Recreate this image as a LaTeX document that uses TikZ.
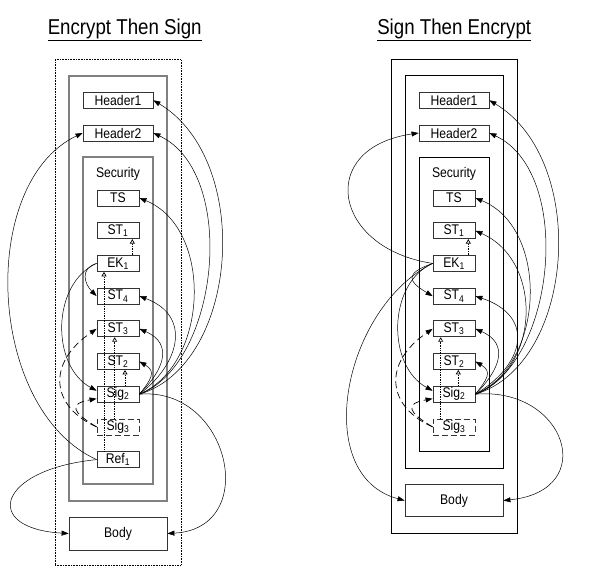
\documentclass[tikz,border=0pt]{standalone}
\usepackage{fontspec}
\setmainfont{Liberation Sans}[FakeStretch=0.87]
\usetikzlibrary{arrows.meta,calc}
\begin{document}
\begin{tikzpicture}[x=1pt,y=-1pt,
  box/.style={draw=black!80, line width=0.8pt, fill=white, inner sep=0pt, minimum height=16pt, font=\fontsize{14}{14}\selectfont},
  hbox/.style={box, minimum width=70pt},
  sbox/.style={box, minimum width=42pt},
  cont/.style={draw, inner sep=0pt, fill=none},
  grayc/.style={cont, draw=black!50, line width=1.6pt},
  blackc/.style={cont, draw=black, line width=0.8pt},
  con/.style={line width=0.5pt, -{Triangle[length=7pt,width=5pt]}},
  dep/.style={line width=0.7pt, densely dotted, -{Triangle[open,length=4.5pt,width=5pt]}},
  dcon/.style={con, line width=0.7pt, dash pattern=on 7pt off 4pt},
  ttl/.style={anchor=base, font=\fontsize{21.5}{22}\selectfont},
  lbl/.style={anchor=base, font=\fontsize{14}{14}\selectfont},
]
\useasboundingbox (0,0) rectangle (591,570);

% ---------------- titles
\node[ttl] (titleL) at (124.7,34.3) {\underline{Encrypt Then Sign}};
\node[ttl] (titleR) at (454.2,34.3) {\underline{Sign Then Encrypt}};

% ---------------- left containers
\node[cont, draw=black, line width=0.6pt, densely dotted, minimum width=126pt, minimum height=505.5pt] (outerL) at (118,312.25) {};
\node[grayc, minimum width=98pt, minimum height=425pt] (envL) at (118,288.5) {};
\node[grayc, minimum width=70pt, minimum height=327pt] (secL) at (118,320.5) {};
\node[lbl] (secLt) at (118,177) {Security};

% ---------------- right containers
\node[blackc, minimum width=126pt, minimum height=473.7pt] (outerR) at (454,296.2) {};
\node[blackc, minimum width=98pt, minimum height=392.3pt] (envR) at (454,271.9) {};
\node[blackc, minimum width=70pt, minimum height=294pt] (secR) at (454,304) {};
\node[lbl] (secRt) at (454,177) {Security};

% ---------------- left boxes
\node[hbox] (H1L) at (118,100.3) {Header1};
\node[hbox] (H2L) at (118,133) {Header2};
\node[sbox] (TSL) at (118,198) {TS};
\node[sbox] (ST1L) at (118,230.7) {ST\textsubscript{1}};
\node[sbox] (EK1L) at (118,263.4) {EK\textsubscript{1}};
\node[sbox] (ST4L) at (118,296.1) {ST\textsubscript{4}};
\node[sbox] (ST3L) at (118,328.8) {ST\textsubscript{3}};
\node[sbox] (ST2L) at (118,361.5) {ST\textsubscript{2}};
\node[sbox] (Sig2L) at (118,394.2) {Sig\textsubscript{2}};
\node[sbox, dash pattern=on 6pt off 3pt] (Sig3L) at (118,426.9) {Sig\textsubscript{3}};
\node[sbox] (Ref1L) at (118,459.6) {Ref\textsubscript{1}};
\node[box, minimum width=98pt, minimum height=33pt] (bodyL) at (118,533.5) {Body};

% ---------------- right boxes
\node[hbox] (H1R) at (454,100.3) {Header1};
\node[hbox] (H2R) at (454,133) {Header2};
\node[sbox] (TSR) at (454,198) {TS};
\node[sbox] (ST1R) at (454,230.7) {ST\textsubscript{1}};
\node[sbox] (EK1R) at (454,263.4) {EK\textsubscript{1}};
\node[sbox] (ST4R) at (454,296.1) {ST\textsubscript{4}};
\node[sbox] (ST3R) at (454,328.8) {ST\textsubscript{3}};
\node[sbox] (ST2R) at (454,361.5) {ST\textsubscript{2}};
\node[sbox] (Sig2R) at (454,394.2) {Sig\textsubscript{2}};
\node[sbox, dash pattern=on 6pt off 3pt] (Sig3R) at (454,426.9) {Sig\textsubscript{3}};
\node[box, minimum width=98pt, minimum height=32.5pt] (bodyR) at (454,500.5) {Body};

% ---------------- left connectors
\draw[con] (Sig2L.east) .. controls +(100,-30) and +(100,60) .. (H1L.east);
\draw[con] (Sig2L.east) .. controls +(80,-30) and +(85,40) .. (H2L.east);
\draw[con] (Sig2L.east) .. controls +(70,-30) and +(74,30) .. (TSL.east);
\draw[con] (Sig2L.east) .. controls +(40,-30) and +(53,20) .. (ST4L.east);
\draw[con] (Sig2L.east) .. controls +(25,-25) and +(34,15) .. (ST3L.east);
\draw[con] (Sig2L.east) .. controls +(12,-15) and +(17,10) .. (ST2L.east);
\draw[con] (Sig2L.east) .. controls +(90,-8) and +(94,-5) .. (bodyL.east);
\draw[con] (Ref1L.west) .. controls +(-110,-50) and +(-105,50) .. (H2L.west);
\draw[con] (Ref1L.west) .. controls +(-100,10) and +(-87,-5) .. (bodyL.west);
\draw[con] (EK1L.west) .. controls +(-17,5) and +(-12,-12) .. (ST4L.west);
\draw[con] (EK1L.west) .. controls +(-45,20) and +(-46,-25) .. ($(Sig2L.west)+(0,-3.5)$);
\draw[dcon] (Sig3L.west) .. controls +(-45,-20) and +(-51,35) .. (ST3L.west);
\draw[dcon] (Sig3L.west) .. controls +(-25,-15) and +(-28,5) .. ($(Sig2L.west)+(0,4.5)$);
\draw[dep] ($(EK1L.north)+(14.3,0)$) -- ($(ST1L.south)+(14.3,0)$);
\draw[dep] ($(Ref1L.north)+(-14,0)$) -- ($(EK1L.south)+(-14,0)$);
\draw[dep] ($(Sig3L.north)+(-3.3,0)$) -- ($(ST3L.south)+(-3.3,0)$);
\draw[dep] ($(Sig2L.north)+(7,0)$) -- ($(ST2L.south)+(7,0)$);

% ---------------- right connectors
\draw[con] (Sig2R.east) .. controls +(100,-30) and +(100,60) .. (H1R.east);
\draw[con] (Sig2R.east) .. controls +(80,-30) and +(85,40) .. (H2R.east);
\draw[con] (Sig2R.east) .. controls +(70,-30) and +(74,30) .. (TSR.east);
\draw[con] (Sig2R.east) .. controls +(65,-25) and +(68,30) .. (ST1R.east);
\draw[con] (Sig2R.east) .. controls +(50,-30) and +(60,20) .. (ST4R.east);
\draw[con] (Sig2R.east) .. controls +(25,-25) and +(34,15) .. (ST3R.east);
\draw[con] (Sig2R.east) .. controls +(12,-15) and +(17,10) .. (ST2R.east);
\draw[con] (Sig2R.east) .. controls +(90,-8) and +(97,-10) .. (bodyR.east);
\draw[con] (EK1R.west) .. controls +(-100,-15) and +(-103,15) .. (H2R.west);
\draw[con] (EK1R.west) .. controls +(-90,45) and +(-94,-25) .. (bodyR.west);
\draw[con] (EK1R.west) .. controls +(-28,10) and +(-25,-15) .. (ST4R.west);
\draw[con] (EK1R.west) .. controls +(-45,20) and +(-46,-25) .. ($(Sig2R.west)+(0,-3.5)$);
\draw[dcon] (Sig3R.west) .. controls +(-45,-20) and +(-51,35) .. (ST3R.west);
\draw[dcon] (Sig3R.west) .. controls +(-25,-15) and +(-28,5) .. ($(Sig2R.west)+(0,4.5)$);
\draw[dep] ($(EK1R.north)+(14.3,0)$) -- ($(ST1R.south)+(14.3,0)$);
\draw[dep] ($(Sig3R.north)+(-13.3,0)$) -- ($(ST3R.south)+(-13.3,0)$);
\draw[dep] ($(Sig2R.north)+(4.3,0)$) -- ($(ST2R.south)+(4.3,0)$);
\end{tikzpicture}
\end{document}
